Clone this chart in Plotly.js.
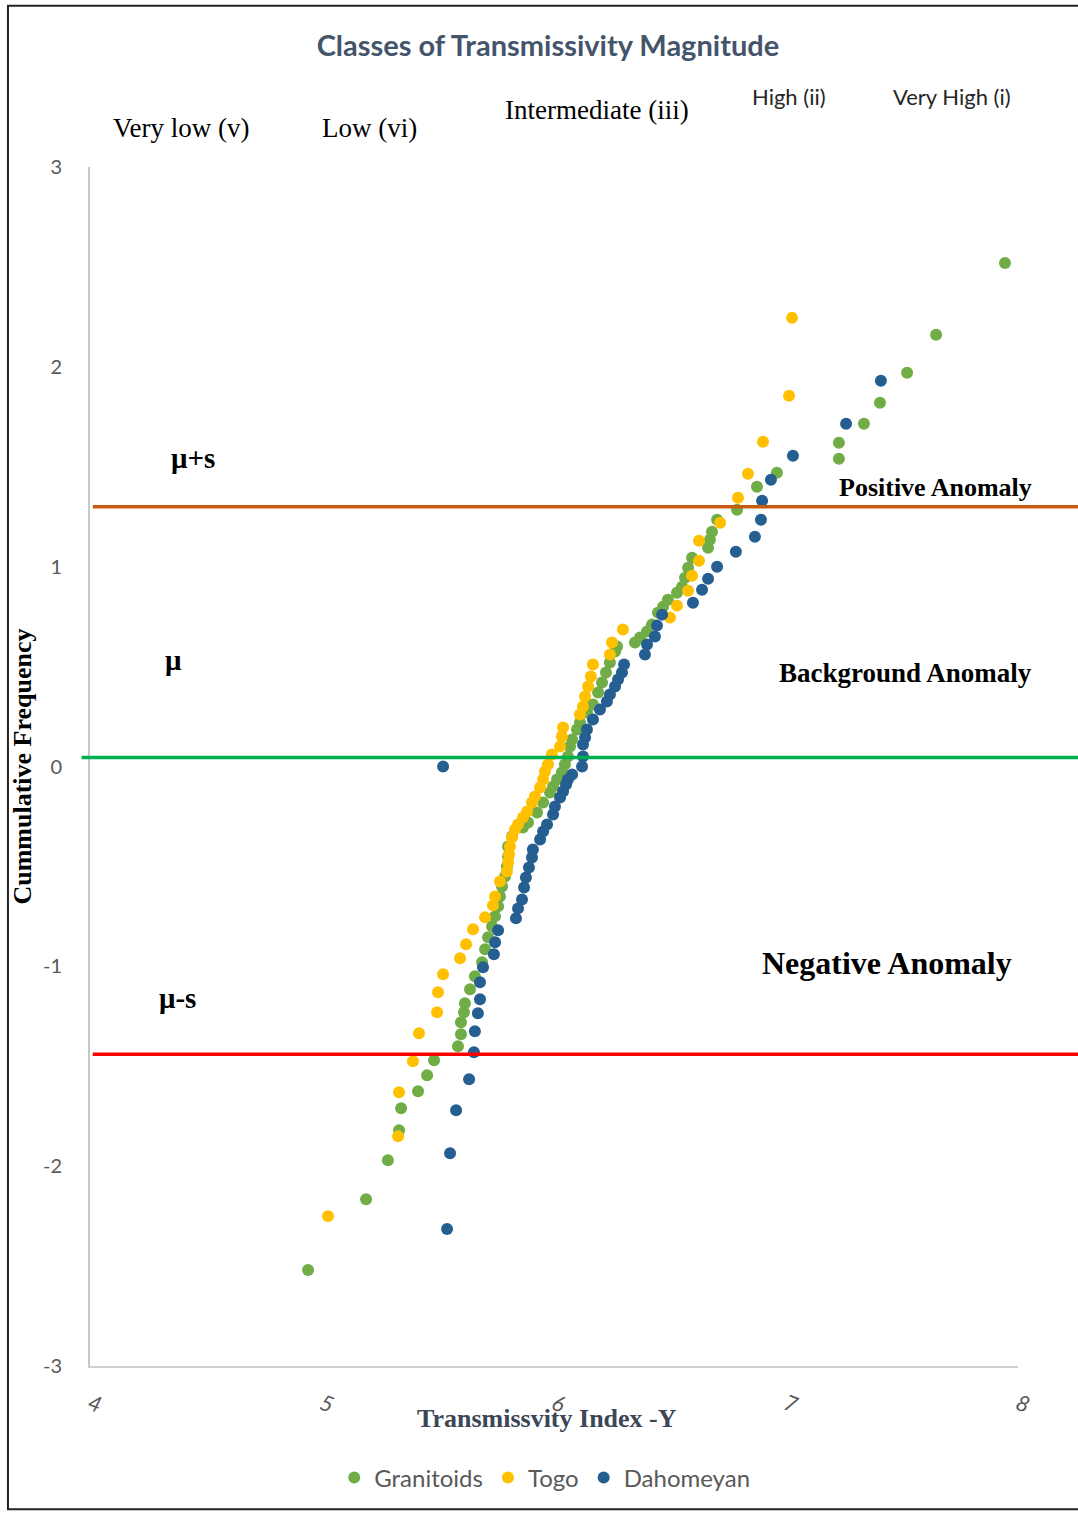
<!DOCTYPE html>
<html>
<head>
<meta charset="utf-8">
<script src="https://cdn.plot.ly/plotly-3.0.1.min.js"></script>
<style>
  html, body { margin: 0; padding: 0; background: #ffffff; }
  #chart { width: 1078px; height: 1513px; }
</style>
</head>
<body>
<div id="chart"></div>
<script>
// Transmissivity index (x) against cumulative frequency (y) for each rock group
const granitoidsX = [4.940, 5.190, 5.284, 5.332, 5.341, 5.414, 5.453, 5.483, 5.586, 5.599, 5.599, 5.612, 5.616,
  5.638, 5.659, 5.690, 5.703, 5.716, 5.733, 5.746, 5.759, 5.767, 5.776, 5.789, 5.797, 5.802, 5.802, 5.819,
  5.866, 5.888, 5.927, 5.953, 5.983, 5.996, 6.013, 6.034, 6.047, 6.060, 6.069, 6.078, 6.099, 6.112, 6.142,
  6.168, 6.190, 6.207, 6.224, 6.241, 6.263, 6.272, 6.349, 6.371, 6.401, 6.422, 6.448, 6.470, 6.491, 6.530,
  6.552, 6.565, 6.578, 6.595, 6.664, 6.672, 6.681, 6.703, 6.789, 6.875, 6.961, 7.228, 7.228, 7.336, 7.405,
  7.522, 7.647, 7.944];
const granitoidsY = [-2.52, -2.165, -1.97, -1.82, -1.71, -1.625, -1.545, -1.47, -1.40, -1.34, -1.28, -1.23, -1.185,
  -1.115, -1.05, -0.98, -0.915, -0.855, -0.80, -0.75, -0.70, -0.65, -0.60, -0.55, -0.50, -0.45, -0.40, -0.35,
  -0.305, -0.28, -0.23, -0.18, -0.13, -0.10, -0.065, -0.03, 0.01, 0.05, 0.10, 0.135, 0.185, 0.22, 0.27,
  0.31, 0.37, 0.42, 0.47, 0.52, 0.575, 0.60, 0.62, 0.645, 0.675, 0.71, 0.77, 0.80, 0.835, 0.87,
  0.90, 0.945, 0.995, 1.045, 1.095, 1.135, 1.175, 1.235, 1.285, 1.40, 1.47, 1.54, 1.62, 1.715, 1.82,
  1.97, 2.16, 2.52];

const togoX = [5.026, 5.328, 5.332, 5.392, 5.418, 5.496, 5.500, 5.522, 5.595, 5.621, 5.651, 5.703, 5.737, 5.746,
  5.767, 5.797, 5.802, 5.806, 5.810, 5.819, 5.832, 5.845, 5.866, 5.884, 5.905, 5.918, 5.940, 5.953, 5.961,
  5.974, 5.991, 6.026, 6.034, 6.039, 6.112, 6.125, 6.134, 6.147, 6.159, 6.168, 6.241, 6.250, 6.297, 6.500,
  6.530, 6.578, 6.595, 6.625, 6.625, 6.716, 6.793, 6.836, 6.901, 7.013, 7.026];
const togoY = [-2.25, -1.85, -1.63, -1.475, -1.335, -1.23, -1.13, -1.04, -0.96, -0.89, -0.815, -0.755, -0.695, -0.65,
  -0.575, -0.525, -0.48, -0.44, -0.40, -0.355, -0.315, -0.29, -0.255, -0.225, -0.18, -0.15, -0.105, -0.065, -0.025,
  0.01, 0.06, 0.10, 0.15, 0.195, 0.26, 0.30, 0.35, 0.40, 0.45, 0.51, 0.56, 0.62, 0.685, 0.745,
  0.805, 0.88, 0.955, 1.03, 1.13, 1.22, 1.345, 1.465, 1.625, 1.855, 2.245];

const dahomeyanX = [5.539, 5.552, 5.578, 5.634, 5.655, 5.659, 5.672, 5.681, 5.681, 5.694, 5.741, 5.746, 5.759,
  5.836, 5.845, 5.862, 5.871, 5.879, 5.892, 5.905, 5.909, 5.940, 5.953, 5.970, 5.996, 6.004, 6.026, 6.039,
  6.052, 6.060, 6.078, 5.522, 6.121, 6.125, 6.125, 6.134, 6.142, 6.168, 6.198, 6.228, 6.241, 6.263, 6.276,
  6.293, 6.302, 6.392, 6.401, 6.435, 6.444, 6.466, 6.599, 6.638, 6.664, 6.703, 6.784, 6.866, 6.892,
  6.897, 6.935, 7.030, 7.259, 7.409];
const dahomeyanY = [-2.315, -1.935, -1.72, -1.565, -1.43, -1.325, -1.235, -1.165, -1.08, -1.005, -0.94, -0.88, -0.82,
  -0.76, -0.71, -0.665, -0.605, -0.555, -0.505, -0.455, -0.415, -0.365, -0.325, -0.29, -0.24, -0.20, -0.155, -0.125,
  -0.09, -0.065, -0.04, 0.00, 0.00, 0.05, 0.11, 0.145, 0.185, 0.235, 0.285, 0.325, 0.36, 0.40, 0.435,
  0.47, 0.51, 0.56, 0.61, 0.65, 0.705, 0.76, 0.82, 0.885, 0.94, 1.00, 1.075, 1.15, 1.235,
  1.33, 1.435, 1.555, 1.715, 1.93];

const seriesNames = ["Granitoids", "Togo", "Dahomeyan"];

// Reference levels: mean + s, mean, mean - s
const levelNames = ["μ+s", "μ", "μ-s"];
const levelValues = [1.30, 0.045, -1.44];

const classLabels = ["Very low (v)", "Low (vi)", "Intermediate (iii)", "High (ii)", "Very High (i)"];
const anomalyLabels = ["Positive Anomaly", "Background Anomaly", "Negative Anomaly"];

const xTicks = [4, 5, 6, 7, 8];
const yTicks = [-3, -2, -1, 0, 1, 2, 3];

const colors = ["#70AD47", "#FFC000", "#255E91"];
const serif = "Liberation Serif, Times New Roman, serif";
const sans = "Lato, Open Sans, sans-serif";

const xs = [granitoidsX, togoX, dahomeyanX];
const ys = [granitoidsY, togoY, dahomeyanY];

const traces = seriesNames.map((name, i) => ({
  type: "scatter",
  mode: "markers",
  name: name,
  x: xs[i],
  y: ys[i],
  marker: { color: colors[i], size: 12, line: { width: 0 } },
  cliponaxis: false
}));

const levelColors = ["#C55A11", "#00B050", "#FF0000"];
const levelStart = [0.003, -0.009, 0.003];
const shapes = levelValues.map((v, i) => ({
  type: "line", xref: "paper", yref: "y",
  x0: levelStart[i], x1: 1.08, y0: v, y1: v,
  line: { color: levelColors[i], width: 3.5 }
}));
// outer frame of the figure
shapes.push({
  type: "rect", xref: "paper", yref: "paper",
  x0: -0.0884, x1: 1.09, y0: -0.1195, y1: 1.1345,
  line: { color: "#222222", width: 2 }, layer: "below"
});

function ann(text, x, y, font, extra) {
  return Object.assign({
    text: text, xref: "paper", yref: "paper", x: x, y: y,
    xanchor: "center", yanchor: "middle", showarrow: false, font: font
  }, extra || {});
}

const serifReg = { family: serif, size: 27, color: "#000000" };
const sansSmall = { family: sans, size: 22, color: "#262626" };
const bold = (s) => ({ family: serif, size: s, color: "#000000", weight: "bold" });
const annotations = [
  ann(classLabels[0], 0.098, 1.0325, serifReg),
  ann(classLabels[1], 0.3017, 1.0325, serifReg),
  ann(classLabels[2], 0.5463, 1.0475, serifReg),
  ann(classLabels[3], 0.7532, 1.0584, sansSmall),
  ann(classLabels[4], 0.9289, 1.0584, sansSmall),
  ann(levelNames[0], 0.111, 0.7573, bold(29)),
  ann(levelNames[1], 0.0905, 0.5888, bold(29)),
  ann(levelNames[2], 0.0948, 0.3069, bold(29)),
  ann(anomalyLabels[0], 0.9106, 0.7323, bold(26)),
  ann(anomalyLabels[1], 0.8793, 0.578, bold(27)),
  ann(anomalyLabels[2], 0.8588, 0.3361, bold(32)),
  ann("Transmissvity Index -Y", 0.4925, -0.0442, { family: serif, size: 26, color: "#3B4656", weight: "bold" })
];

const layout = {
  width: 1078,
  height: 1513,
  paper_bgcolor: "#ffffff",
  plot_bgcolor: "#ffffff",
  margin: { l: 90, r: 60, t: 167, b: 147, pad: 0 },
  title: {
    text: "Classes of Transmissivity Magnitude",
    font: { family: sans, size: 29, color: "#44546A", weight: "bold" },
    xref: "paper", x: 0.4935, xanchor: "center",
    yref: "container", y: 1 - 46 / 1513, yanchor: "middle"
  },
  showlegend: true,
  legend: {
    orientation: "h", xref: "paper", x: 0.49, xanchor: "center",
    yref: "paper", y: -0.0934, yanchor: "middle",
    font: { family: sans, size: 24, color: "#595959" },
    itemsizing: "constant", itemwidth: 30, tracegroupgap: 0
  },
  xaxis: {
    range: [4, 8],
    tickvals: xTicks,
    ticktext: xTicks.map(String),
    tickangle: 20,
    tickfont: { family: sans, size: 22, color: "#595959", style: "italic" },
    showgrid: false, zeroline: false,
    showline: true, linecolor: "#D0D0D0", linewidth: 2,
    ticks: "", ticklabelstandoff: 15
  },
  yaxis: {
    range: [-3, 3],
    tickvals: yTicks,
    ticktext: yTicks.map(String),
    tickfont: { family: sans, size: 20, color: "#595959" },
    showgrid: false, zeroline: false,
    showline: true, linecolor: "#C8C8C8", linewidth: 2,
    ticks: "", ticklabelstandoff: 22,
    title: {
      text: "Cummulative Frequency",
      font: { family: serif, size: 26, color: "#000000", weight: "bold" },
      standoff: 4
    }
  },
  shapes: shapes,
  annotations: annotations
};

Plotly.newPlot("chart", traces, layout, { displayModeBar: false, staticPlot: true });
</script>
</body>
</html>
